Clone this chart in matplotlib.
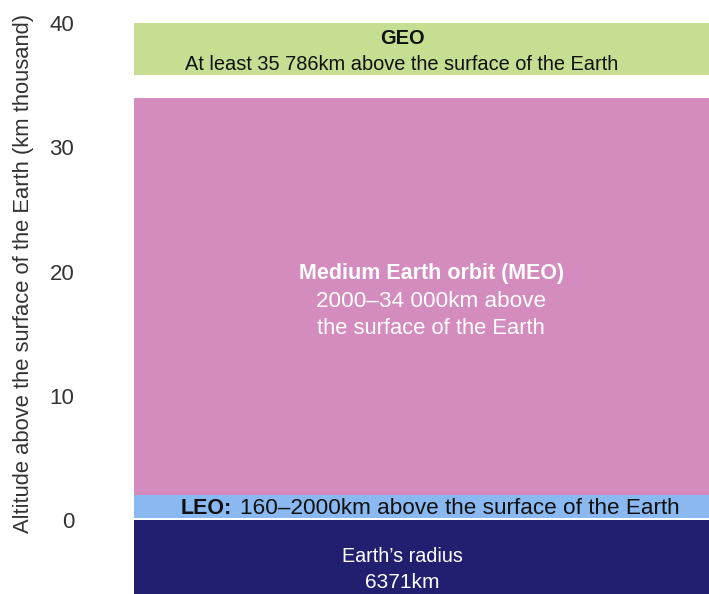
import numpy as np
import matplotlib.pyplot as plt

# orbit bands, altitude in km thousand
bands = ["Earth", "LEO", "MEO", "GEO"]
bottoms = [-6.371, 0.16, 2.0, 35.786]
tops = [0.0, 2.0, 34.0, 40.0]
colors = ["#231f70", "#8ab8f0", "#d48bbd", "#c5de91"]
yticks = [0, 10, 20, 30, 40]

plt.rcParams['font.family'] = ['Liberation Sans', 'DejaVu Sans']

fig = plt.figure(figsize=(7.09, 5.94), dpi=100)
ax = fig.add_axes([134 / 709, 0, 1 - 134 / 709, (594 - 23) / 594])

heights = np.array(tops) - np.array(bottoms)
ax.bar([0] * len(bands), heights, bottom=bottoms, width=1.0, color=colors,
       align='center')
ax.set_xlim(-0.5, 0.5)
ax.set_ylim(-5.95, 40)

ax.set_yticks(yticks)
ax.set_yticklabels([str(t) for t in yticks], fontsize=16, color="#333333")
ax.tick_params(axis='y', length=0, pad=43)
ax.set_xticks([])
for s in ax.spines.values():
    s.set_visible(False)

fig.text(24 / 709, 1 - 273 / 594,
         "Altitude above the surface of the Earth (km thousand)",
         rotation=90, ha='center', va='center', fontsize=15.8, color="#333333")

dark = "#111111"
cx = -0.034   # centre of most labels
mx = 0.017    # centre of MEO labels

# GEO
ax.text(cx, 38.72, "GEO", ha='center', va='center', fontsize=14.4,
        fontweight='bold', color=dark)
ax.text(cx, 36.63, "At least 35 786km above the surface of the Earth",
        ha='center', va='center', fontsize=14.4, color=dark)

# MEO
ax.text(mx, 19.84, "Medium Earth orbit (MEO)", ha='center', va='center',
        fontsize=15.5, fontweight='bold', color="white")
ax.text(mx, 17.6, "2000\u201334 000km above", ha='center', va='center',
        fontsize=16.2, color="white")
ax.text(mx, 15.4, "the surface of the Earth", ha='center', va='center',
        fontsize=15.8, color="white")

# LEO
ax.text(0.170 - 0.5, 0.9, "LEO:", ha='right', va='center', fontsize=15.5,
        fontweight='bold', color=dark)
ax.text(0.184 - 0.5, 0.9, "160\u20132000km above the surface of the Earth",
        ha='left', va='center', fontsize=16.2, color=dark)

# Earth
ax.text(cx, -2.9, "Earth\u2019s radius", ha='center', va='center',
        fontsize=14.2, color="white")
ax.text(cx, -5.05, "6371km", ha='center', va='center',
        fontsize=15, color="white")

fig.savefig("out.png", dpi=100)
